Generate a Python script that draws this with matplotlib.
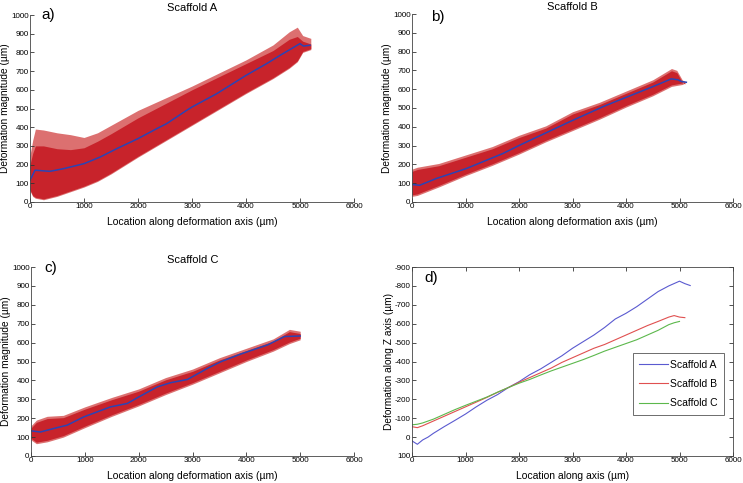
import numpy as np
import matplotlib
matplotlib.use("Agg")
import matplotlib.pyplot as plt

plt.rcParams['font.family'] = ['Liberation Sans', 'DejaVu Sans']
plt.rcParams['axes.unicode_minus'] = False

# --- panel a: Scaffold A (scatter cloud envelope + mean line)
a_x = [0, 50, 100, 250, 500, 750, 1000, 1250, 1500, 2000, 2500, 3000, 3500, 4000, 4500, 4800, 4950, 5050, 5200]
a_top = [250, 330, 390, 385, 370, 360, 345, 370, 410, 490, 555, 620, 690, 760, 840, 910, 935, 890, 875]
a_core = [200, 260, 300, 300, 285, 280, 290, 325, 365, 450, 525, 600, 670, 740, 810, 870, 885, 860, 845]
a_low = [60, 30, 20, 12, 30, 55, 80, 110, 150, 240, 325, 410, 495, 580, 660, 715, 750, 800, 815]
a_mx = [0, 93, 370, 617, 1000, 1296, 1605, 2000, 2346, 2530, 2900, 3000, 3457, 4000, 4383, 4630, 5000, 5062, 5185]
a_my = [116, 170, 164, 178, 205, 240, 285, 339, 392, 419, 490, 508, 579, 677, 740, 784, 847, 834, 838]

# --- panel b: Scaffold B
b_x = [0, 100, 500, 1000, 1500, 2000, 2500, 3000, 3500, 4000, 4500, 4850, 4950, 5050, 5100]
b_top = [175, 185, 205, 250, 295, 355, 405, 480, 530, 590, 650, 710, 700, 650, 640]
b_low = [30, 35, 80, 140, 195, 255, 320, 380, 440, 505, 565, 615, 620, 625, 632]
b_mx = [0, 143, 455, 1016, 1700, 2012, 2947, 3570, 3882, 4505, 4847, 4972, 5034, 5128]
b_my = [93, 89, 125, 178, 258, 302, 427, 507, 543, 614, 655, 650, 641, 637]

# --- panel c: Scaffold C
c_x = [0, 100, 300, 600, 1000, 1500, 2000, 2500, 3000, 3500, 4000, 4500, 4800, 5000]
c_top = [160, 190, 210, 215, 260, 310, 355, 415, 460, 520, 570, 620, 670, 660]
c_low = [85, 65, 75, 100, 150, 210, 265, 325, 380, 440, 500, 555, 595, 615]
c_mx = [0, 174, 484, 671, 981, 1478, 1789, 2006, 2348, 2596, 2907, 3280, 3528, 3901, 4398, 4708, 5000]
c_my = [133, 127, 150, 163, 207, 260, 278, 313, 366, 388, 405, 464, 499, 540, 588, 632, 635]

# --- panel d: deformation along Z
d_xa = [0, 100, 200, 300, 400, 600, 800, 1000, 1200, 1400, 1600, 1800, 2000, 2200, 2400, 2600, 2800,
        3000, 3200, 3400, 3600, 3800, 4000, 4200, 4400, 4600, 4800, 5000, 5100, 5200]
d_ya = [20, 38, 15, 0, -20, -55, -88, -122, -160, -195, -225, -262, -293, -330, -360, -395, -430,
        -470, -505, -540, -580, -625, -655, -690, -730, -770, -800, -825, -812, -802]
d_xb = [0, 100, 200, 400, 600, 800, 1000, 1200, 1400, 1600, 1800, 2000, 2200, 2400, 2600, 2800,
        3000, 3200, 3400, 3600, 3800, 4000, 4200, 4400, 4600, 4800, 4900, 5000, 5100]
d_yb = [-55, -50, -60, -85, -110, -135, -160, -185, -210, -237, -262, -290, -315, -340, -365, -395,
        -420, -445, -470, -490, -515, -540, -565, -590, -612, -635, -643, -635, -632]
d_xc = [0, 100, 200, 400, 600, 800, 1000, 1200, 1400, 1600, 1800, 2000, 2200, 2400, 2600, 2800,
        3000, 3200, 3400, 3600, 3800, 4000, 4200, 4400, 4600, 4800, 4900, 5000]
d_yc = [-65, -68, -75, -95, -120, -145, -168, -190, -212, -238, -262, -285, -305, -328, -350, -370,
        -390, -410, -432, -455, -475, -495, -515, -540, -565, -595, -605, -612]

W, H = 743, 483
fig = plt.figure(figsize=(W / 100, H / 100), dpi=100)


def box(l, t, r, b):
    return [l / W, 1 - b / H, (r - l) / W, (b - t) / H]


xlab = 'Location along deformation axis (\u00b5m)'
ylab = 'Deformation magnitude (\u00b5m)'
light = '#dc7070'
dense = '#c8232b'
meanc = '#2b44b5'


def style(ax, full=False):
    ax.set_xlim(0, 6000)
    ax.tick_params(direction='in', length=3, width=0.6, labelsize=5.8, pad=1,
                   top=full, right=full, colors='#333333', labelcolor='black')
    for s in ['top', 'right']:
        ax.spines[s].set_visible(full)
    for s in ax.spines.values():
        s.set_linewidth(0.6)
        s.set_color('#444444')
    ax.set_xticks(np.arange(0, 6001, 1000))


def cloud(ax, x, lo, hi, core=None):
    ax.fill_between(x, lo, hi, color=light, lw=0)
    if core is None:
        lo2 = np.array(lo) + 8
        hi2 = np.array(hi) - 12
    else:
        lo2 = np.array(lo) + 5
        hi2 = core
    ax.fill_between(x, lo2, hi2, color=dense, lw=0)


for rect, title, lab, lpos, xs, lo, hi, core, mx, my in [
        ((30, 15, 354, 202), 'Scaffold A', 'a)', (0.034, 1.0), a_x, a_low, a_top, a_core, a_mx, a_my),
        ((412, 14, 733, 202), 'Scaffold B', 'b)', (0.06, 0.985), b_x, b_low, b_top, None, b_mx, b_my),
        ((31, 267, 354, 456), 'Scaffold C', 'c)', (0.04, 0.995), c_x, c_low, c_top, None, c_mx, c_my)]:
    ax = fig.add_axes(box(*rect))
    cloud(ax, xs, lo, hi, core)
    ax.plot(mx, my, color=meanc, lw=1.1)
    style(ax)
    ax.set_ylim(0, 1000)
    ax.set_yticks(np.arange(0, 1001, 100))
    ax.set_title(title, fontsize=8, pad=3)
    ax.set_xlabel(xlab, fontsize=7.5, labelpad=5)
    ax.set_ylabel(ylab, fontsize=7.3, labelpad=0.5)
    ax.text(lpos[0], lpos[1], lab, transform=ax.transAxes, fontsize=11, va='center', ha='left')

# panel d
ax = fig.add_axes(box(412, 267, 733, 456))
ax.plot(d_xa, d_ya, color='#5a5ad0', lw=0.8, label='Scaffold A')
ax.plot(d_xb, d_yb, color='#e05050', lw=0.8, label='Scaffold B')
ax.plot(d_xc, d_yc, color='#5cb84c', lw=0.8, label='Scaffold C')
style(ax, full=True)
ax.set_ylim(100, -900)
ax.set_yticks(np.arange(-900, 101, 100))
ax.set_xlabel('Location along axis (\u00b5m)', fontsize=7.5, labelpad=5)
ax.set_ylabel('Deformation along Z axis (\u00b5m)', fontsize=7.3, labelpad=0.5)
ax.text(0.04, 0.94, 'd)', transform=ax.transAxes, fontsize=11, va='center', ha='left')
leg = ax.legend(loc='upper right', bbox_to_anchor=(0.988, 0.57), fontsize=7.5, fancybox=False,
                framealpha=1, edgecolor='#555555', handlelength=2.8, borderpad=0.6, labelspacing=0.9,
                handletextpad=0.2)
leg.get_frame().set_linewidth(0.6)

fig.savefig('out.png', dpi=100)
